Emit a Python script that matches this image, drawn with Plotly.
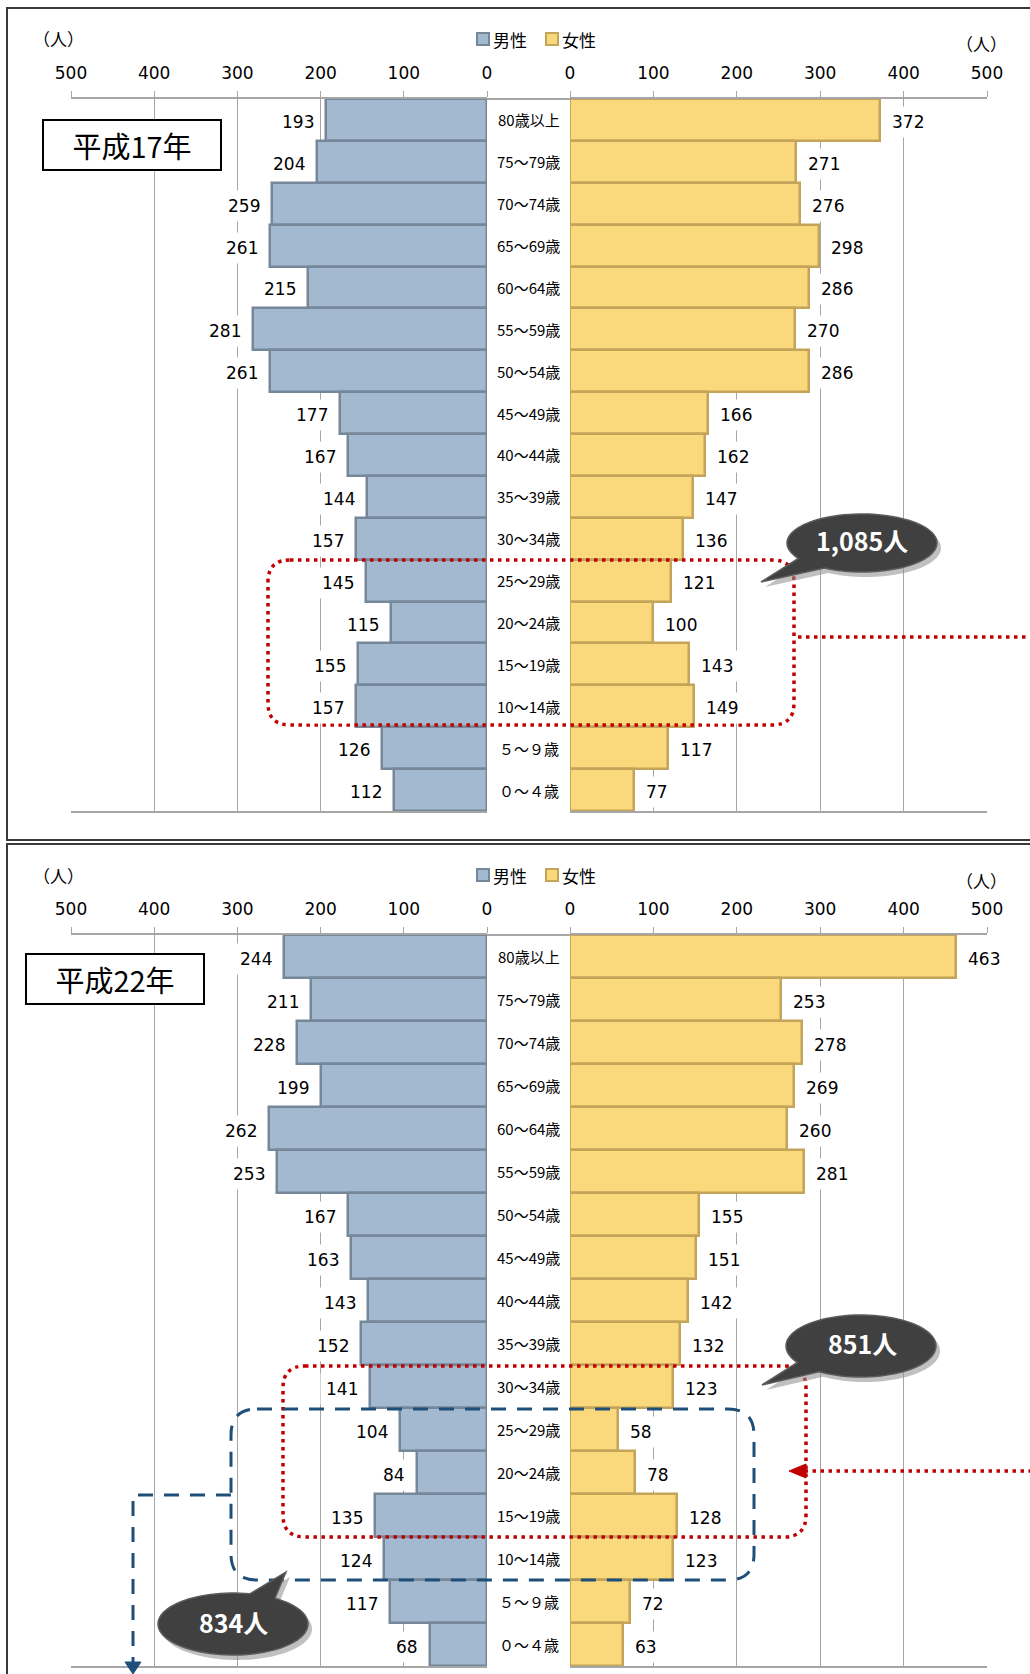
import numpy as np
import plotly.graph_objects as go

W, H = 1030, 1674

# ---- data -------------------------------------------------------------
age_groups = ["80歳以上", "75～79歳", "70～74歳", "65～69歳", "60～64歳", "55～59歳",
              "50～54歳", "45～49歳", "40～44歳", "35～39歳", "30～34歳", "25～29歳",
              "20～24歳", "15～19歳", "10～14歳", "５～９歳", "０～４歳"]

male_h17 = [193, 204, 259, 261, 215, 281, 261, 177, 167, 144, 157, 145, 115, 155, 157, 126, 112]
female_h17 = [372, 271, 276, 298, 286, 270, 286, 166, 162, 147, 136, 121, 100, 143, 149, 117, 77]
male_h22 = [244, 211, 228, 199, 262, 253, 167, 163, 143, 152, 141, 104, 84, 135, 124, 117, 68]
female_h22 = [463, 253, 278, 269, 260, 281, 155, 151, 142, 132, 123, 58, 78, 128, 123, 72, 63]

tick_values = [0, 100, 200, 300, 400, 500]
panel_titles = ["平成17年", "平成22年"]
bubble_totals = ["1,085人", "851人", "834人"]
legend_names = ["男性", "女性"]
unit_label = "（人）"

# ---- style ------------------------------------------------------------
MALE_FILL, MALE_LINE = "#A3B9D0", "#76879A"
FEMALE_FILL, FEMALE_LINE = "#F9D97C", "#C4A459"
GRID = "#A6A6A6"
RED = "#C00000"
BLUE = "#1F4E79"
NUM_FONT = "DejaVu Sans, Noto Sans CJK JP"
JP_FONT = "Noto Sans CJK JP, DejaVu Sans"


def X(px):
    return px / W


def Y(py):
    return 1 - py / H


def pt(px, py):
    return f"{X(px):.5f},{Y(py):.5f}"


def rrect(x0, y0, x1, y1, r):
    return (f"M {pt(x0 + r, y0)} L {pt(x1 - r, y0)} Q {pt(x1, y0)} {pt(x1, y0 + r)} "
            f"L {pt(x1, y1 - r)} Q {pt(x1, y1)} {pt(x1 - r, y1)} "
            f"L {pt(x0 + r, y1)} Q {pt(x0, y1)} {pt(x0, y1 - r)} "
            f"L {pt(x0, y0 + r)} Q {pt(x0, y0)} {pt(x0 + r, y0)} Z")


def polyline(points, close=False):
    s = "M " + " L ".join(pt(a, b) for a, b in points)
    return s + (" Z" if close else "")


def bubble_path(cx, cy, rx, ry, tip, a0, a1, dx=0, dy=0, n=90):
    ts = np.radians(np.linspace(a1, a0 + 360, n))
    pts = [(cx + rx * np.cos(t) + dx, cy + ry * np.sin(t) + dy) for t in ts]
    pts.append((tip[0] + dx, tip[1] + dy))
    return polyline(pts, close=True)


def paper_text(px, py, text, size, color="#000", anchor="center", **kw):
    return dict(xref="paper", yref="paper", x=X(px), y=Y(py), text=text, showarrow=False,
                xanchor=anchor, yanchor="middle",
                font=dict(family=JP_FONT, size=size, color=color), **kw)


# ---- panels -----------------------------------------------------------
MALE_DOM = [X(71), X(487)]
FEMALE_DOM = [X(570), X(987)]
MID_X = 528.5
panels = [
    dict(top=99, bottom=811, male=male_h17, female=female_h17, ax=("x", "y", "x2", "y2")),
    dict(top=935, bottom=1666, male=male_h22, female=female_h22, ax=("x3", "y3", "x4", "y4")),
]

fig = go.Figure()
annotations = []
shapes = []
layout_axes = {}


def axname(a):
    return a[0] + "axis" + a[1:]


for p in panels:
    mx, my, fx, fy = p["ax"]
    fig.add_trace(go.Bar(y=age_groups, x=p["male"], orientation="h", width=1,
                         xaxis=mx, yaxis=my, showlegend=False, hoverinfo="skip",
                         marker=dict(color=MALE_FILL, line=dict(color=MALE_LINE, width=2.5))))
    fig.add_trace(go.Bar(y=age_groups, x=p["female"], orientation="h", width=1,
                         xaxis=fx, yaxis=fy, showlegend=False, hoverinfo="skip",
                         marker=dict(color=FEMALE_FILL, line=dict(color=FEMALE_LINE, width=2.5))))
    ydom = [Y(p["bottom"]), Y(p["top"])]
    common_x = dict(side="top", showline=True, linecolor=GRID, linewidth=2, mirror=True,
                    ticks="outside", ticklen=6, tickcolor=GRID, tickwidth=1,
                    showgrid=True, gridcolor=GRID, gridwidth=1, zeroline=False,
                    tickvals=tick_values, ticklabelstandoff=5, automargin=False,
                    tickfont=dict(family=NUM_FONT, size=17, color="#000"),
                    fixedrange=True)
    common_y = dict(type="category", range=[16.5, -0.5], domain=ydom, visible=False,
                    automargin=False, fixedrange=True)
    layout_axes[axname(mx)] = dict(common_x, domain=MALE_DOM, range=[500, 0], anchor=my)
    layout_axes[axname(fx)] = dict(common_x, domain=FEMALE_DOM, range=[0, 500], anchor=fy)
    layout_axes[axname(my)] = dict(common_y, anchor=mx)
    layout_axes[axname(fy)] = dict(common_y, anchor=fx)

    # axis line continues across the age-label column
    shapes.append(dict(type="line", xref="paper", yref="paper", layer="below",
                       x0=MALE_DOM[1], x1=FEMALE_DOM[0], y0=ydom[1], y1=ydom[1],
                       line=dict(color=GRID, width=2)))

    for cat, mv, fv in zip(age_groups, p["male"], p["female"]):
        annotations.append(dict(xref=mx, yref=my, x=mv, y=cat, text=str(mv), showarrow=False,
                                xanchor="right", yanchor="middle", xshift=-6, yshift=-2,
                                bgcolor="white", borderpad=5,
                                font=dict(family=NUM_FONT, size=17, color="#000")))
        annotations.append(dict(xref=fx, yref=fy, x=fv, y=cat, text=str(fv), showarrow=False,
                                xanchor="left", yanchor="middle", xshift=6, yshift=-2,
                                bgcolor="white", borderpad=5,
                                font=dict(family=NUM_FONT, size=17, color="#000")))
        annotations.append(dict(xref="paper", yref=my, x=X(MID_X), y=cat, text=cat,
                                showarrow=False, xanchor="center", yanchor="middle",
                                font=dict(family=JP_FONT, size=15, color="#000")))

# ---- headers: units, legend, year boxes --------------------------------
for yl, yr, yleg, title, tcy, tcx in [(38, 44, 39, panel_titles[0], 145, 132),
                                      (875, 880, 875, panel_titles[1], 979, 115)]:
    annotations.append(paper_text(58, yl, unit_label, 17))
    annotations.append(paper_text(981, yr, unit_label, 17))
    for sx, fill, line, name in [(477, MALE_FILL, MALE_LINE, legend_names[0]),
                                 (546, FEMALE_FILL, FEMALE_LINE, legend_names[1])]:
        shapes.append(dict(type="rect", xref="paper", yref="paper",
                           x0=X(sx), x1=X(sx + 12), y0=Y(yleg + 6), y1=Y(yleg - 6),
                           fillcolor=fill, line=dict(color=line, width=2)))
        annotations.append(paper_text(sx + 14, yleg, name, 17, anchor="left"))
    annotations.append(paper_text(tcx, tcy, title, 29, width=176, height=48,
                                  bgcolor="white", bordercolor="#000", borderwidth=2,
                                  borderpad=0))

# outer frames
shapes.append(dict(type="path", xref="paper", yref="paper",
                   path=polyline([(1032, 8), (7, 8), (7, 840), (1032, 840)]),
                   line=dict(color="#3a3a3a", width=2)))
shapes.append(dict(type="path", xref="paper", yref="paper",
                   path=polyline([(1032, 844), (7, 844), (7, 1676)]),
                   line=dict(color="#3a3a3a", width=2)))

red_line = dict(color=RED, width=3.5, dash="3.5px,4.5px")
blue_line = dict(color=BLUE, width=3, dash="15px,11px")

# top panel selection and connector
shapes.append(dict(type="path", xref="paper", yref="paper", layer="above",
                   path=rrect(268, 560, 794, 725, 22), line=red_line))
shapes.append(dict(type="path", xref="paper", yref="paper", layer="above",
                   path=polyline([(798, 637), (1032, 637)]), line=red_line))

# bottom panel selections
shapes.append(dict(type="path", xref="paper", yref="paper", layer="above",
                   path=rrect(283, 1366, 806, 1537, 22), line=red_line))
shapes.append(dict(type="path", xref="paper", yref="paper", layer="above",
                   path=polyline([(1032, 1471), (804, 1471)]), line=red_line))
shapes.append(dict(type="path", xref="paper", yref="paper", layer="above",
                   path=polyline([(789, 1471), (806, 1464), (806, 1478)], close=True),
                   fillcolor=RED, line=dict(color=RED, width=1)))
shapes.append(dict(type="path", xref="paper", yref="paper", layer="above",
                   path=rrect(231, 1409, 754, 1580, 26), line=blue_line))
shapes.append(dict(type="path", xref="paper", yref="paper", layer="above",
                   path=polyline([(231, 1495), (133, 1495), (133, 1662)]), line=blue_line))
shapes.append(dict(type="path", xref="paper", yref="paper", layer="above",
                   path=polyline([(125, 1662), (141, 1662), (133, 1674)], close=True),
                   fillcolor=BLUE, line=dict(color=BLUE, width=1)))

# speech bubbles with totals
bubbles = [
    dict(c=(862, 543), r=(75, 29), tip=(761, 582), a=(120, 148), text=bubble_totals[0], tc=(862, 540)),
    dict(c=(861, 1346), r=(75, 31), tip=(762, 1385), a=(124, 148), text=bubble_totals[1], tc=(862, 1343)),
    dict(c=(233, 1624), r=(75, 31), tip=(286, 1572), a=(283, 304), text=bubble_totals[2], tc=(233, 1622)),
]
for b in bubbles:
    shapes.append(dict(type="path", xref="paper", yref="paper", layer="above",
                       path=bubble_path(*b["c"], *b["r"], b["tip"], *b["a"], dx=4, dy=5),
                       fillcolor="rgba(140,140,140,0.55)", line=dict(width=0)))
    shapes.append(dict(type="path", xref="paper", yref="paper", layer="above",
                       path=bubble_path(*b["c"], *b["r"], b["tip"], *b["a"]),
                       fillcolor="#404040", line=dict(color="#5c5c5c", width=1.5)))
    annotations.append(paper_text(*b["tc"], f"<b>{b['text']}</b>", 25, color="white"))

fig.update_layout(
    width=W, height=H, margin=dict(l=0, r=0, t=0, b=0, autoexpand=False),
    paper_bgcolor="white", plot_bgcolor="white",
    showlegend=False, bargap=0,
    annotations=annotations, shapes=shapes,
    **layout_axes,
)

fig.write_html("out.html")
